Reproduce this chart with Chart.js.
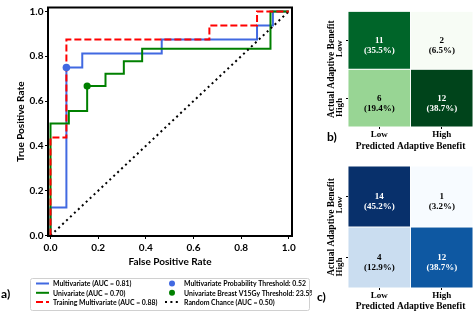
<!DOCTYPE html>
<html><head><meta charset="utf-8">
<script src="https://cdn.jsdelivr.net/npm/chart.js@4.4.1/dist/chart.umd.min.js"></script>
<style>
html,body{margin:0;padding:0;background:#fff;overflow:hidden;}
#wrap{position:relative;width:475px;height:312px;overflow:hidden;}
canvas{position:absolute;}
.lbl{position:absolute;font-family:Lato,sans-serif;font-weight:bold;font-size:12px;line-height:12px;color:#000;}
</style></head><body>
<div id="wrap">
<canvas id="roc" width="312" height="312" style="left:0;top:0"></canvas>
<canvas id="heatB" width="175" height="156" style="left:300px;top:0"></canvas>
<canvas id="heatC" width="175" height="166" style="left:300px;top:150px"></canvas>
<div class="lbl" style="left:1px;top:288px">a)</div>
<div class="lbl" style="left:327px;top:131px">b)</div>
<div class="lbl" style="left:317px;top:291px">c)</div>
</div>
<script>
// ---------- data ----------
const multiFpr = [0, 0, 0.0667, 0.0667, 0.1333, 0.1333, 0.4667, 0.4667, 0.8667, 0.8667, 0.9333, 0.9333, 1];
const multiTpr = [0, 0.125, 0.125, 0.75, 0.75, 0.8125, 0.8125, 0.875, 0.875, 0.9375, 0.9375, 1, 1];
const uniFpr = [0, 0, 0.0769, 0.0769, 0.1538, 0.1538, 0.2308, 0.2308, 0.3077, 0.3077, 0.3846, 0.3846, 0.9231, 0.9231, 1];
const uniTpr = [0, 0.5, 0.5, 0.5556, 0.5556, 0.6667, 0.6667, 0.7222, 0.7222, 0.7778, 0.7778, 0.8333, 0.8333, 1, 1];
const trainFpr = [0, 0, 0.0667, 0.0667, 0.6667, 0.6667, 0.8667, 0.8667, 1];
const trainTpr = [0, 0.4375, 0.4375, 0.875, 0.875, 0.9375, 0.9375, 1, 1];
const chanceFpr = [0, 1];
const chanceTpr = [0, 1];
const multiThresholdFpr = [0.0667];
const multiThresholdTpr = [0.75];
const uniThresholdFpr = [0.1538];
const uniThresholdTpr = [0.6667];
const seriesLabels = [
  'Multivariate (AUC = 0.81)',
  'Univariate (AUC = 0.70)',
  'Training Multivariate (AUC = 0.88)',
  'Multivariate Probability Threshold: 0.52',
  'Univariate Breast V15Gy Threshold: 23.5%',
  'Random Chance (AUC = 0.50)'
];
const rocTicks = [0.0, 0.2, 0.4, 0.6, 0.8, 1.0];
const xTitle = 'False Positive Rate';
const yTitle = 'True Positive Rate';

const predLabels = ['Low', 'High'];
const actualLabels = ['Low', 'High'];
const uniMatrix = [[11, 2], [6, 12]];     // panel b
const multiMatrix = [[14, 1], [4, 12]];   // panel c
const heatXTitle = 'Predicted Adaptive Benefit';
const heatYTitle = 'Actual Adaptive Benefit';

// ---------- styles ----------
const BLUE = '#4169e1', GREEN = '#008000', RED = '#ff0000';
const SANS = 'Lato, "Open Sans", sans-serif';
const SERIF = '"Liberation Serif", "DejaVu Serif", serif';
const GREENS = ['#f7fcf5','#e5f5e0','#c7e9c0','#a1d99b','#74c476','#41ab5d','#238b45','#006d2c','#00441b'];
const BLUES = ['#f7fbff','#deebf7','#c6dbef','#9ecae1','#6baed6','#4292c6','#2171b5','#08519c','#08306b'];

function hex(h){return [parseInt(h.slice(1,3),16),parseInt(h.slice(3,5),16),parseInt(h.slice(5,7),16)];}
function cmap(stops, t){
  t = Math.max(0, Math.min(1, t));
  const p = t*(stops.length-1);
  const i = Math.min(Math.floor(p), stops.length-2);
  const f = p - i;
  const a = hex(stops[i]), b = hex(stops[i+1]);
  return 'rgb(' + a.map((v,k)=>Math.round(v+(b[k]-v)*f)).join(',') + ')';
}
const toPts = (xs, ys) => xs.map((x, i) => ({x: x, y: ys[i]}));

// ---------- ROC chart ----------
const framePlugin = {
  id: 'frame',
  afterDatasetsDraw(chart) {
    const {ctx, chartArea: a} = chart;
    ctx.save();
    ctx.strokeStyle = '#000'; ctx.lineWidth = 2;
    ctx.strokeRect(a.left, a.top, a.right - a.left, a.bottom - a.top);
    ctx.restore();
  }
};
const legendOrder = [[0, 1, 2], [3, 4, 5]];
const legendPlugin = {
  id: 'boxLegend',
  afterDraw(chart) {
    const ctx = chart.ctx;
    const box = {x: 30.5, y: 278.5, w: 279, h: 32};
    ctx.save();
    ctx.beginPath();
    if (ctx.roundRect) ctx.roundRect(box.x, box.y, box.w, box.h, 2); else ctx.rect(box.x, box.y, box.w, box.h);
    ctx.fillStyle = 'rgba(255,255,255,0.9)'; ctx.fill();
    ctx.strokeStyle = '#d0d0d0'; ctx.lineWidth = 1; ctx.stroke();
    const rows = [283.5, 292.8, 302];
    const cols = [{h0: 36, h1: 49, tx: 53}, {h0: 165, h1: 178, tx: 184}];
    ctx.font = 'bold 6.9px ' + SANS;
    ctx.textBaseline = 'middle';
    legendOrder.forEach((col, ci) => {
      col.forEach((di, ri) => {
        const ds = chart.data.datasets[di];
        const y = rows[ri], c = cols[ci];
        if (ds.showLine) {
          ctx.beginPath();
          ctx.setLineDash(ds.borderDash || []);
          ctx.lineCap = 'butt';
          ctx.strokeStyle = ds.borderColor; ctx.lineWidth = ds.borderWidth;
          ctx.moveTo(c.h0, y); ctx.lineTo(c.h1, y); ctx.stroke();
          ctx.setLineDash([]);
        } else {
          ctx.beginPath();
          ctx.fillStyle = ds.backgroundColor;
          ctx.arc((c.h0 + c.h1) / 2 + 0.5, y, 3, 0, Math.PI * 2); ctx.fill();
        }
        ctx.fillStyle = '#000';
        ctx.fillText(ds.label, c.tx, y + 0.5);
      });
    });
    ctx.restore();
  }
};

const tickFont = {family: SANS, size: 10, weight: 'bold'};
const titleFont = {family: SANS, size: 10, weight: 'bold'};
new Chart(document.getElementById('roc'), {
  type: 'scatter',
  data: {datasets: [
    {label: seriesLabels[0], data: toPts(multiFpr, multiTpr), showLine: true, borderColor: BLUE, borderWidth: 2, pointRadius: 0, order: 6},
    {label: seriesLabels[1], data: toPts(uniFpr, uniTpr), showLine: true, borderColor: GREEN, borderWidth: 2, pointRadius: 0, order: 5},
    {label: seriesLabels[2], data: toPts(trainFpr, trainTpr), showLine: true, borderColor: RED, borderWidth: 2, borderDash: [7, 3], pointRadius: 0, order: 3},
    {label: seriesLabels[3], data: toPts(multiThresholdFpr, multiThresholdTpr), showLine: false, backgroundColor: BLUE, borderWidth: 0, pointRadius: 3.8, order: 1},
    {label: seriesLabels[4], data: toPts(uniThresholdFpr, uniThresholdTpr), showLine: false, backgroundColor: GREEN, borderWidth: 0, pointRadius: 3.6, order: 0},
    {label: seriesLabels[5], data: toPts(chanceFpr, chanceTpr), showLine: true, borderColor: '#000', borderWidth: 2, borderDash: [2, 3.4], pointRadius: 0, order: 4}
  ]},
  options: {
    responsive: false, animation: false, devicePixelRatio: 1,
    layout: {padding: {left: 0, top: 1, right: 20, bottom: 42}},
    plugins: {legend: {display: false}, tooltip: {enabled: false}},
    scales: {
      x: {
        type: 'linear', min: -0.0105, max: 1.0134,
        afterBuildTicks: s => { s.ticks = rocTicks.map(v => ({value: v})); },
        afterFit: s => { s.height = 34; },
        ticks: {callback: v => Number(v).toFixed(1), font: tickFont, color: '#000', padding: 2.5, maxRotation: 0},
        grid: {drawOnChartArea: false, drawTicks: true, tickLength: 3, color: '#000'},
        border: {display: false},
        title: {display: true, text: xTitle, font: titleFont, color: '#000', padding: {top: 0, bottom: 2.3}}
      },
      y: {
        type: 'linear', min: -0.002, max: 1.0174,
        afterBuildTicks: s => { s.ticks = rocTicks.map(v => ({value: v})); },
        afterFit: s => { s.width = 48; },
        ticks: {callback: v => Number(v).toFixed(1), font: tickFont, color: '#000', padding: 1.5},
        grid: {drawOnChartArea: false, drawTicks: true, tickLength: 3, color: '#000'},
        border: {display: false},
        title: {display: true, text: yTitle, font: titleFont, color: '#000', padding: {top: 15, bottom: 0}}
      }
    }
  },
  plugins: [framePlugin, legendPlugin]
});

// ---------- heatmaps ----------
const cellText = {
  id: 'cellText',
  afterDatasetsDraw(chart, args, m) {
    if (!m || !m.matrix) return;
    const ctx = chart.ctx;
    ctx.save();
    ctx.textAlign = 'center'; ctx.textBaseline = 'middle';
    ctx.font = 'bold 9px ' + SERIF;
    chart.data.datasets.forEach((ds, r) => {
      chart.getDatasetMeta(r).data.forEach((el, c) => {
        const v = m.matrix[r][c];
        const cx = el.x, cy = (el.y + el.base) / 2;
        ctx.fillStyle = (v - m.vmin) / (m.vmax - m.vmin) > 0.5 ? '#fff' : '#000';
        ctx.fillText(String(v), cx, cy + 0.5);
        ctx.fillText('(' + (v / m.total * 100).toFixed(1) + '%)', cx, cy + 10.5);
      });
    });
    ctx.restore();
  }
};
function makeHeat(id, matrix, stops, pad, xh) {
  const flat = matrix.flat();
  const vmin = Math.min(...flat), vmax = Math.max(...flat);
  const total = flat.reduce((a, b) => a + b, 0);
  const datasets = actualLabels.map((name, r) => ({
    label: name,
    data: predLabels.map(() => [r, r + 1]),
    backgroundColor: matrix[r].map(v => cmap(stops, (v - vmin) / (vmax - vmin))),
    borderColor: '#ffffff', borderWidth: 0.8, borderSkipped: false,
    grouped: false, barPercentage: 1, categoryPercentage: 1
  }));
  const tf = {family: SERIF, size: 9, weight: 'bold'};
  const ttf = {family: SERIF, size: 9.5, weight: 'bold'};
  new Chart(document.getElementById(id), {
    type: 'bar',
    data: {labels: predLabels, datasets: datasets},
    options: {
      responsive: false, animation: false, devicePixelRatio: 1,
      layout: {padding: pad},
      plugins: {legend: {display: false}, tooltip: {enabled: false},
                cellText: {matrix: matrix, vmin: vmin, vmax: vmax, total: total}},
      scales: {
        x: {
          afterFit: s => { s.height = xh; },
          ticks: {font: tf, color: '#000', padding: 0, maxRotation: 0},
          grid: {offset: false, drawOnChartArea: false, drawTicks: true, tickLength: 2, color: '#000'},
          border: {display: false},
          title: {display: true, text: heatXTitle, font: ttf, color: '#000', padding: {top: 0, bottom: 4}}
        },
        y: {
          type: 'linear', min: 0, max: 2, reverse: true,
          afterBuildTicks: s => { s.ticks = actualLabels.map((_, i) => ({value: i + 0.5})); },
          afterFit: s => { s.width = 48; },
          ticks: {callback: (v, i) => actualLabels[i], font: tf, color: '#000', padding: 6, minRotation: 90, maxRotation: 90},
          grid: {drawOnChartArea: false, drawTicks: true, tickLength: 2, color: '#000'},
          border: {display: false},
          title: {display: true, text: heatYTitle, font: ttf, color: '#000', padding: {top: 26, bottom: 0}}
        }
      }
    },
    plugins: [cellText]
  });
}
makeHeat('heatB', uniMatrix, GREENS, {left: 0, top: 4, right: 2, bottom: 0}, 29);
makeHeat('heatC', multiMatrix, BLUES, {left: 0, top: 16, right: 2, bottom: 0}, 28);
</script>
</body></html>
